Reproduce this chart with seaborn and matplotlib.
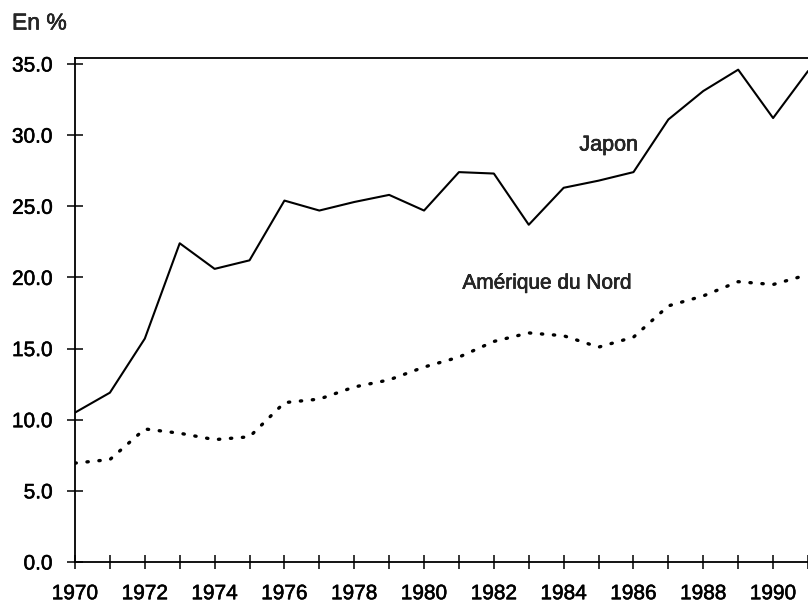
import matplotlib
matplotlib.use("Agg")
import matplotlib.pyplot as plt
import matplotlib.patheffects as pe
import seaborn as sns
import pandas as pd

years = list(range(1970, 1992))
japon = [10.5, 11.9, 15.7, 22.4, 20.6, 21.2, 25.4, 24.7, 25.3, 25.8, 24.7,
         27.4, 27.3, 23.7, 26.3, 26.8, 27.4, 31.1, 33.1, 34.6, 31.2, 34.5]
amerique = [6.95, 7.2, 9.35, 9.05, 8.6, 8.8, 11.2, 11.45, 12.3, 12.8, 13.7,
            14.4, 15.5, 16.1, 15.9, 15.1, 15.8, 18.0, 18.7, 19.7, 19.5, 20.2]
yticks = [0, 5, 10, 15, 20, 25, 30, 35]
xlabel_years = list(range(1970, 1992, 2))

sns.set_style("ticks")
plt.rcParams['font.family'] = ['Liberation Sans', 'DejaVu Sans']

df_j = pd.DataFrame({"year": years, "value": japon})
df_a = pd.DataFrame({"year": years, "value": amerique})

fig = plt.figure(figsize=(8.08, 6.05), dpi=100)
ax = fig.add_axes([75 / 808, 43 / 605, 1 - 75 / 808, 504 / 605])

sns.lineplot(data=df_j, x="year", y="value", ax=ax, color="black", linewidth=1.5)
sns.lineplot(data=df_a, x="year", y="value", ax=ax, color="black", linewidth=2.4,
             linestyle=(0, (0.4, 3.2)), dash_capstyle="round")

ax.set_xlim(1970, 1990.85)
ax.set_ylim(0, 35.42)
ax.set_xticks(years)
ax.set_xticklabels([str(y) if y in xlabel_years else "" for y in years])
ax.set_yticks(yticks)
ax.set_yticklabels([f"{v:.1f}" for v in yticks])
ax.tick_params(axis="both", direction="inout", length=12, width=1.1, colors="black",
               labelsize=15)
ax.tick_params(axis="y", pad=10)
ax.tick_params(axis="x", pad=11, length=10)
ax.set_xlabel("")
ax.set_ylabel("")
for s in ["left", "top", "bottom"]:
    ax.spines[s].set_linewidth(1.3)
    ax.spines[s].set_color("black")
ax.spines["right"].set_visible(False)

stroke = [pe.withStroke(linewidth=0.4, foreground="black")]
for lab in ax.get_xticklabels() + ax.get_yticklabels():
    lab.set_path_effects(stroke)

ax.text(1984.45, 29.3, "Japon", fontsize=15.5, ha="left", va="center", path_effects=stroke)
ax.text(1981.1, 19.6, "Amérique du Nord", fontsize=15, ha="left", va="center",
        path_effects=stroke)
fig.text(12 / 808, 1 - 23 / 605, "En %", fontsize=16.5, ha="left", va="center",
         path_effects=stroke)

fig.savefig("out.png", dpi=100)
